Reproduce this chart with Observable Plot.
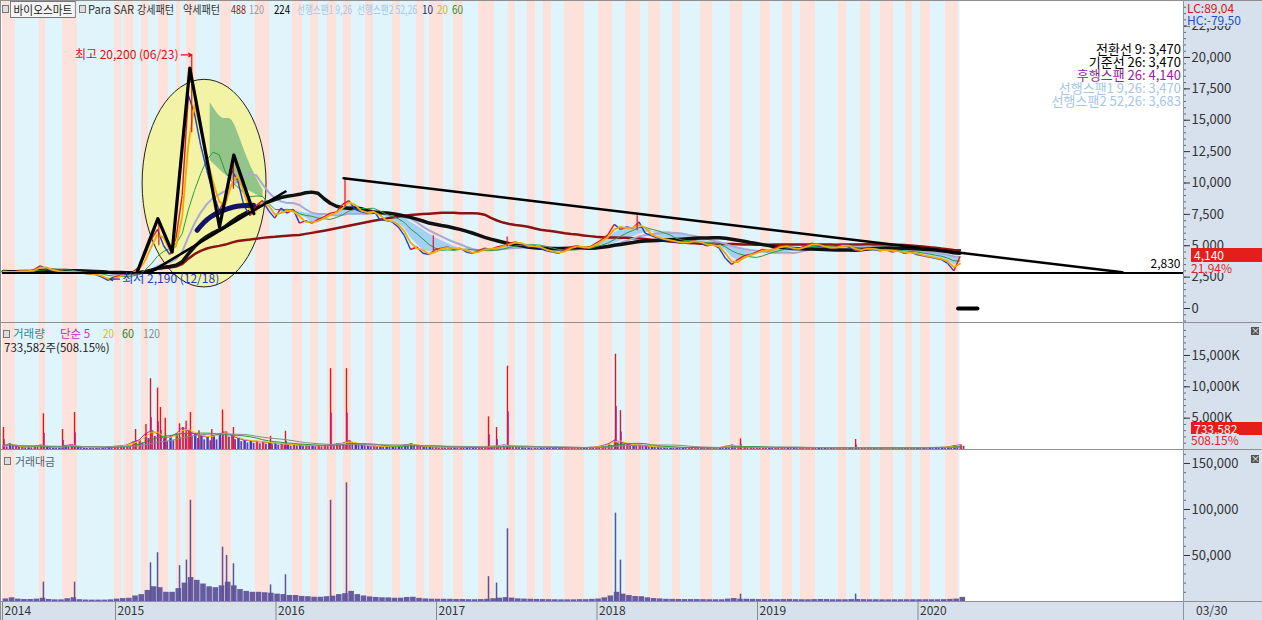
<!DOCTYPE html>
<html><head><meta charset="utf-8">
<script src="https://cdn.jsdelivr.net/npm/d3@7"></script>
<script src="https://cdn.jsdelivr.net/npm/@observablehq/plot@0.6"></script>
<style>
body{margin:0;background:#fff;}
#wrap{position:relative;width:1262px;height:620px;overflow:hidden;font-family:"Noto Sans CJK KR","Noto Sans",sans-serif;background:#fff;}
.abs{position:absolute;}
.lbl{position:absolute;white-space:nowrap;font-size:12px;line-height:14px;transform-origin:0 50%;}
.sq{position:absolute;width:5px;height:6px;border:1px solid #777;background:#ddd;}
</style></head><body><div id="wrap"></div>
<script>
// ---------------- DATA ----------------
const startYear = 2014.30;       // first sample (decimal year)
const stepYear = 1 / 26;         // two-week sampling
const closes = [2950,2900,2950,3000,2950,3100,3400,3150,3000,2950,
2900,2950,2850,2800,2750,2700,2500,2250,2500,2650,
2700,2900,3300,4300,5500,6300,5000,4300,5600,9000,
17000,15500,13000,11000,9200,7800,8800,11000,10200,8200,
7400,8200,8600,7800,7200,8000,7600,7900,6800,7000,
6800,7100,7300,7600,7700,8300,8600,7900,7700,7600,
7800,7100,7000,6900,6500,5800,4700,4900,4400,4300,
4700,4800,4900,4700,4800,4500,4400,4600,4800,4700,
4900,5000,5200,5300,5100,4900,5000,4800,4600,4500,
4400,4700,4900,5000,4800,4900,5200,5500,5900,6700,
6300,6500,6400,6900,6000,5800,5600,5500,5400,5300,
5200,5300,5400,5200,5000,5100,4800,4000,3500,3900,
4200,4300,4500,4700,4600,4800,5000,4900,4700,4800,
5000,5200,5000,4900,4800,4900,5100,4900,4600,4700,
4800,4700,4600,4700,4500,4600,4400,4500,4300,4200,
4100,4000,3900,3600,3000,4140];
const highs = [[2015.475,14000,20200],[2015.735,9500,12300],[2016.43,8000,10400],[2018.25,6200,7400],[2015.27,5000,6900],[2016.98,4600,5800],[2017.44,4900,5700]];
const volBase = [600,900,500,400,400,500,
700,400,350,350,600,800,400,
300,300,300,300,400,500,600,700,
1200,1500,2500,3000,2500,1800,2000,2500,3500,3000,2500,2200,2000,2200,2500,2800,2200,1800,1500,1400,
1300,1200,1100,1000,900,800,800,700,700,600,600,650,700,900,1000,1400,900,700,600,550,
500,500,450,500,700,900,600,500,450,400,400,380,350,350,330,320,350,400,500,600,
700,600,450,400,380,350,330,320,300,300,280,280,300,300,350,400,600,900,1500,1200,
900,700,700,550,450,400,350,330,320,300,300,300,290,280,280,300,500,700,500,450,
400,350,330,320,300,300,320,300,280,280,300,320,300,280,270,270,300,320,300,280,
270,260,260,270,280,290,300,300,310,320,330,350,400,600,734];
const volSpikes = [[2014.302,3500],[2014.551,5700],[2014.670,3200],[2014.745,5900],[2015.125,3200],[2015.19,4000],[2015.218,11300],[2015.262,9800],[2015.280,6700],[2015.31,5000],[2015.399,4100],[2015.44,4500],[2015.467,5900],[2015.52,3000],[2015.60,3200],[2015.667,6300],[2015.735,3500],[2015.966,2100],[2016.059,2900],[2016.340,12900],[2016.439,12900],[2017.324,5200],[2017.374,3500],[2017.442,13300],[2018.115,15200],[2018.146,6200],[2018.894,1700],[2019.611,1600]];
const valBase = [2800,4000,2600,2200,2200,2600,3500,2200,1800,1800,3000,4000,2000,1600,1500,1500,1500,1800,2600,3200,3500,
6000,7500,12000,16000,15000,10000,10000,14000,20000,26000,23000,19000,16000,15000,17000,21000,17000,13000,11000,10000,
10000,9500,9000,8000,7500,6500,6500,5500,5200,4600,4600,5200,5800,7500,8500,11000,7500,6000,5000,4400,
4000,3900,3500,3600,4400,4600,3400,2800,2500,2400,2400,2400,2200,2200,2000,1900,2100,2400,3000,3600,
4200,3700,2900,2600,2400,2200,2100,2000,1900,1800,1800,1800,2000,2000,2300,2700,4000,6000,10000,8000,
6500,5400,5200,4000,3200,2800,2400,2300,2200,2100,2100,2100,2000,1900,1900,1900,2600,3200,2400,2400,
2300,2100,2100,2100,2000,2100,2200,2000,1900,1900,2100,2200,2100,1900,1900,1900,2100,2100,2000,1900,
1900,1800,1800,1900,1900,1900,1900,1900,1900,1900,1900,2000,2300,2600,4500];
const valSpikes = [[2014.551,21000],[2014.745,21000],[2015.218,42000],[2015.262,53000],[2015.399,39000],[2015.442,45000],[2015.467,110000],[2015.667,59000],[2015.692,50000],[2015.735,41000],[2015.966,18000],[2016.059,29000],[2016.340,110000],[2016.439,129000],[2017.324,27000],[2017.374,20000],[2017.442,79000],[2018.115,96000],[2018.146,45000],[2018.894,8000],[2019.611,8000]];
const pinkBands = [[2014.296,2014.377],[2014.526,2014.564],[2014.670,2014.763],[2014.994,2015.037],[2015.056,2015.112],[2015.162,2015.206],[2015.268,2015.330],[2015.380,2015.405],[2015.442,2015.505],[2015.654,2015.723],[2015.872,2015.960],[2016.103,2016.165],[2016.215,2016.265],[2016.321,2016.377],[2016.421,2016.470],[2016.558,2016.607],[2016.726,2016.776],[2016.875,2016.925],[2016.956,2017.044],[2017.106,2017.168],[2017.262,2017.361],[2017.449,2017.492],[2017.567,2017.617],[2017.667,2017.717],[2017.798,2017.922],[2018.009,2018.097],[2018.178,2018.271],[2018.321,2018.396],[2018.470,2018.520],[2018.645,2018.720],[2018.832,2018.907],[2019.019,2019.081],[2019.156,2019.218],[2019.268,2019.361],[2019.505,2019.555],[2019.642,2019.704],[2019.766,2019.847],[2019.922,2019.966],[2020.016,2020.078],[2020.171,2020.252]];
const greenCloud = [[2015.59,16400,11800],[2015.67,14800,10800],[2015.72,15500,10300],[2015.78,13400,9800],[2015.84,11300,9300],[2015.92,9400,8800]];
const navyCurve = [[2015.509,6230],[2015.592,7290],[2015.735,8090],[2015.86,8230]];
const zigzag = [[2015.135,2900],[2015.264,7160],[2015.353,4500],[2015.463,19150],[2015.648,6490],[2015.737,12220],[2015.862,7560]];
const risingLine = [[2015.218,2900],[2016.059,9320]];
const fallingLine = [[2016.421,10380],[2021.274,2880]];
const supportLevel = 2830;
const zeroDash = [[2020.25,2020.37,0]];
const ellipse = {t: 2015.555, v: 9950, dt: 0.386, dv: 8270};
const peakNote = {t: 2015.475, v: 20200, text: "최고 20,200 (06/23)"};
const lowNote = {t: 2014.965, v: 2190, text: "최저 2,190 (12/18)"};
const priceTicks = [0,2500,5000,7500,10000,12500,15000,17500,20000,22500];
const volTicks = [5000,10000,15000];
const valTicks = [50000,100000,150000];
const yearTicks = [2014.296,2015,2016,2017,2018,2019,2020];
const yearLabels = ["2014","2015","2016","2017","2018","2019","2020"];

// ---------------- SETUP ----------------
const FONT = '"Noto Sans CJK KR","Noto Sans",sans-serif';
const W = 1262, ML = 2, MR = 79;
const xDomain = [2014.296, 2021.654];
const minorLen = 3 / 160.5; // 3px expressed in years, for minor tick marks right of the frame
const wrap = document.getElementById("wrap");
const style = {background: "transparent", fontFamily: FONT, fontSize: "12px", overflow: "visible"};

const price = closes.map((c, i) => ({t: startYear + i * stepYear, close: c}));
const segs = price.slice(1).map((d, i) => ({t1: price[i].t, v1: price[i].close, t2: d.t, v2: d.close, col: d.close >= price[i].close ? "#e8141e" : "#1c3fd0"}));
const lastT = price[price.length - 1].t;
const range = [{a: price[0].t, b: lastT}];
const bands = pinkBands.map(([a, b]) => ({a, b}));
const vol = volBase.map((v, i) => ({t: startYear + i * stepYear, v, col: (i === 0 || closes[i] >= closes[i - 1]) ? "#d8383a" : "#4040b8"}));
const val = valBase.map((v, i) => ({t: startYear + i * stepYear, v}));

function stripes() {
  return [
    Plot.rect(range, {x1: "a", x2: "b", fill: "#e0f5fb"}),
    Plot.rect(bands, {x1: "a", x2: "b", fill: "#fde1db"})
  ];
}
function minorTicks(values) {
  return Plot.ruleY(values, {y: d => d, x1: xDomain[1], x2: xDomain[1] + minorLen, stroke: "#666"});
}
function bg(x, y, w, h, color) {
  const d = document.createElement("div");
  d.className = "abs";
  Object.assign(d.style, {left: x + "px", top: y + "px", width: w + "px", height: h + "px", background: color});
  wrap.appendChild(d);
}
function place(svg, top) {
  svg.style.position = "absolute";
  svg.style.left = "0px";
  svg.style.top = top + "px";
  wrap.appendChild(svg);
}
function label(text, x, y, color, extra = {}, fitW) {
  const d = document.createElement("div");
  d.className = "lbl";
  d.textContent = text;
  Object.assign(d.style, {left: x + "px", top: y + "px", color}, extra);
  wrap.appendChild(d);
  if (fitW) {
    const w = d.getBoundingClientRect().width;
    if (w > fitW) d.style.transform = `scaleX(${fitW / w})`;
  }
  return d;
}

// backgrounds
bg(1183, 0, 79, 620, "#d7e1ee");
bg(0, 601, 1262, 19, "#d7e1ee");

const ellipseMark = (index, scales) => {
  const {x, y} = scales;
  const cx = x(ellipse.t), cy = y(ellipse.v);
  const rx = Math.abs(x(ellipse.t + ellipse.dt) - cx);
  const ry = Math.abs(y(ellipse.v + ellipse.dv) - cy);
  return d3.create("svg:ellipse").attr("cx", cx).attr("cy", cy).attr("rx", rx).attr("ry", ry)
    .attr("fill", "#f3f3a6").attr("stroke", "#222").attr("stroke-width", 1).node();
};

const ma = (k, stroke, sw) => Plot.lineY(price, Plot.windowY({k, anchor: "end"}, {x: "t", y: "close", stroke, strokeWidth: sw}));

// ---------------- PRICE PANEL ----------------
const pricePlot = Plot.plot({
  width: W, height: 322, marginLeft: ML, marginRight: MR, marginTop: 0, marginBottom: 0,
  x: {domain: xDomain, axis: null},
  y: {domain: [-1115, 24540], label: null},
  style,
  marks: [
    ...stripes(),
    ellipseMark,
    Plot.areaY(price.filter(d => d.t >= 2015.9), Plot.map({y1: Plot.window({k: 3, anchor: "end"}), y2: Plot.window({k: 10, anchor: "end"})}, {x: "t", y1: "close", y2: "close", fill: "#a3d0f5"})),
    Plot.areaY(greenCloud, {x: d => d[0], y1: d => d[1], y2: d => d[2], fill: "#93c58a", curve: "basis"}),
    ma(49, "#8a1414", 2.5),
    ma(12, "#a9a9d6", 2),
    ma(22, "#111", 3.5),
    ma(6, "#2e9a3a", 1),
    Plot.link(segs, {x1: "t1", y1: "v1", x2: "t2", y2: "v2", stroke: d => d.col, strokeWidth: 1.4}),
    ma(2, "#f0ac00", 1.8),
    Plot.ruleX(highs, {x: d => d[0], y1: d => d[1], y2: d => d[2], stroke: "#e8141e", strokeWidth: 1.2}),
    Plot.line(navyCurve, {x: d => d[0], y: d => d[1], stroke: "#12126a", strokeWidth: 5, curve: "natural"}),
    Plot.line(zigzag, {x: d => d[0], y: d => d[1], stroke: "#000", strokeWidth: 3.2}),
    Plot.line(risingLine, {x: d => d[0], y: d => d[1], stroke: "#000", strokeWidth: 2.5}),
    Plot.line(fallingLine, {x: d => d[0], y: d => d[1], stroke: "#000", strokeWidth: 2.5}),
    Plot.ruleY([supportLevel], {stroke: "#000", strokeWidth: 2}),
    Plot.text([supportLevel], {y: d => d, x: xDomain[1], text: d => d3.format(",")(d), textAnchor: "end", dx: -3, dy: -9, fill: "#000", fontSize: 12}),
    Plot.link(zeroDash, {x1: d => d[0], x2: d => d[1], y1: d => d[2], y2: d => d[2], stroke: "#000", strokeWidth: 4, strokeLinecap: "round"}),
    Plot.arrow([peakNote], {x1: d => d.t - 0.065, x2: d => d.t, y1: "v", y2: "v", stroke: "#e01010", strokeWidth: 1.2, headLength: 6}),
    Plot.text([peakNote], {x: d => d.t - 0.07, y: "v", text: "text", textAnchor: "end", fill: "#d81010", fontSize: 12, dx: -2}),
    Plot.arrow([lowNote], {x1: d => d.t + 0.06, x2: d => d.t, y1: d => d.v + 150, y2: d => d.v + 150, stroke: "#1a3cc8", strokeWidth: 1.2, headLength: 6}),
    Plot.text([lowNote], {x: d => d.t + 0.065, y: d => d.v + 150, text: "text", textAnchor: "start", fill: "#1a3cc8", fontSize: 12, dx: 2}),
    minorTicks(d3.range(-1000, 24500, 500)),
    Plot.axisY({anchor: "right", ticks: priceTicks, tickSize: 6, tickPadding: 2, tickFormat: d3.format(","), color: "#333", fontSize: 13, label: null})
  ]
});
place(pricePlot, 0);

// ---------------- VOLUME PANEL ----------------
const vma = (k, stroke) => Plot.lineY(vol, Plot.windowY({k, anchor: "end"}, {x: "t", y: "v", stroke, strokeWidth: 1}));
const volPlot = Plot.plot({
  width: W, height: 126, marginLeft: ML, marginRight: MR, marginTop: 0, marginBottom: 0,
  x: {domain: xDomain, axis: null},
  y: {domain: [0, 20100], label: null},
  color: {type: "identity"},
  style,
  marks: [
    ...stripes(),
    Plot.rect(vol, {x1: "t", x2: d => d.t + stepYear * 0.4, y1: 0, y2: "v", fill: "col"}),
    Plot.rect(vol, {x1: d => d.t + stepYear * 0.5, x2: d => d.t + stepYear * 0.8, y1: 0, y2: d => d.v * 0.7, fill: "#7a3aa0"}),
    Plot.ruleX(volSpikes, {x: d => d[0], y1: 0, y2: d => d[1], stroke: "#e01818", strokeWidth: 1.4}),
    Plot.ruleX(volSpikes, {x: d => d[0] + 0.006, y1: 0, y2: d => d[1] * 0.45, stroke: "#c030c0", strokeWidth: 1}),
    vma(1, "#c030c0"),
    vma(2, "#e6cc00"),
    vma(6, "#2a9a2a"),
    vma(12, "#8a8a8a"),
    minorTicks(d3.range(0, 20000, 1000)),
    Plot.axisY({anchor: "right", ticks: volTicks, tickSize: 6, tickPadding: 2, tickFormat: d => d3.format(",")(d) + "K", color: "#333", fontSize: 13, label: null})
  ]
});
place(volPlot, 323);

// ---------------- TRADING VALUE PANEL ----------------
const valPlot = Plot.plot({
  width: W, height: 151, marginLeft: ML, marginRight: MR, marginTop: 0, marginBottom: 0,
  x: {domain: xDomain, axis: null},
  y: {domain: [0, 164130], label: null},
  style,
  marks: [
    ...stripes(),
    Plot.rect(val, {x1: "t", x2: d => d.t + stepYear * 0.9, y1: 0, y2: "v", fill: "#675c9e"}),
    Plot.ruleX(valSpikes, {x: d => d[0], y1: 0, y2: d => d[1], stroke: "#5d5296", strokeWidth: 1.5}),
    minorTicks(d3.range(0, 165000, 10000)),
    Plot.axisY({anchor: "right", ticks: valTicks, tickSize: 6, tickPadding: 2, tickFormat: d3.format(","), color: "#333", fontSize: 13, label: null})
  ]
});
place(valPlot, 450);

// ---------------- TIME AXIS ----------------
const timePlot = Plot.plot({
  width: W, height: 19, marginLeft: ML, marginRight: MR, marginTop: 0, marginBottom: 0,
  x: {domain: xDomain, axis: null},
  style,
  marks: [
    Plot.ruleX(yearTicks, {stroke: "#8a8a8a"}),
    Plot.text(yearTicks, {x: d => d, text: (d, i) => yearLabels[i], textAnchor: "start", dx: 2, frameAnchor: "middle", fill: "#333", fontSize: 12})
  ]
});
place(timePlot, 601);

// separators / borders
bg(0, 322, 1262, 1, "#8f8f8f");
bg(0, 449, 1262, 1, "#8f8f8f");
bg(0, 601, 1262, 1, "#8f8f8f");
bg(1183, 0, 1, 620, "#8a96a8");
bg(0, 0, 1, 620, "#8f8f8f");
bg(0, 0, 1262, 1, "#8f8f8f");

// ---------------- TEXT OVERLAYS ----------------
const H = {fontSize: "11.5px"};
const sq1 = document.createElement("div"); sq1.className = "sq"; Object.assign(sq1.style, {left: "2px", top: "5px"}); wrap.appendChild(sq1);
label("바이오스마트", 10, 1, "#222", {border: "1px solid #777", background: "#f4f4f4", padding: "0 3px", height: "15px", lineHeight: "15px", fontSize: "12px"}, 66);
const sq2 = document.createElement("div"); sq2.className = "sq"; Object.assign(sq2.style, {left: "79px", top: "5px"}); wrap.appendChild(sq2);
label("Para SAR", 88, 2, "#333", H, 46);
label("강세패턴", 137, 2, "#333", H, 37);
label("약세패턴", 183, 2, "#333", H, 37);
label("488", 231, 2, "#a01010", H, 15);
label("120", 249, 2, "#9a9a9a", H, 15);
label("224", 274, 2, "#000", H, 16);
label("선행스팬1 9,26", 297, 2, "#a6c6e8", H, 55);
label("선행스팬2 52,26", 357, 2, "#a6c6e8", H, 60);
label("10", 422, 2, "#1a1a80", H, 11);
label("20", 437, 2, "#d8b400", H, 11);
label("60", 452, 2, "#3a8a3a", H, 11);

// right legend
const legend = [["전환선 9: 3,470", "#000"], ["기준선 26: 3,470", "#000"], ["후행스팬 26: 4,140", "#9a20a8"], ["선행스팬1 9,26: 3,470", "#a6c6e8"], ["선행스팬2 52,26: 3,683", "#a6c6e8"]];
legend.forEach(([t, c], i) => label(t, 0, 42 + i * 13, c, {left: "auto", right: "81px", fontSize: "13px", lineHeight: "13px"}));

// price axis overlays
label("LC:89,04", 1187, 2, "#d01818", {background: "#d7e1ee", fontSize: "12px", lineHeight: "12px"});
label("HC:-79,50", 1187, 14, "#1850c0", {background: "#d7e1ee", fontSize: "12px", lineHeight: "12px"});
label("4,140", 1191, 248, "#fff", {background: "#e41e1a", width: "68px", paddingLeft: "3px", height: "14px", lineHeight: "14px"});
label("21,94%", 1191, 262, "#e41e1a", {lineHeight: "11px", background: "#d7e1ee"});

// volume overlays
const sq3 = document.createElement("div"); sq3.className = "sq"; Object.assign(sq3.style, {left: "3px", top: "330px"}); wrap.appendChild(sq3);
label("거래량", 13, 326, "#2a8a9a", H, 36);
label("단순 5", 60, 326, "#c030c0", H, 34);
label("20", 103, 326, "#d8c000", H, 11);
label("60", 122, 326, "#2a8a2a", H, 12);
label("120", 143, 326, "#8a8a8a", H, 17);
label("733,582주(508.15%)", 4, 340, "#222", H, 122);
label("733,582", 1191, 422, "#fff", {background: "#e41e1a", width: "68px", paddingLeft: "3px", height: "13px", lineHeight: "13px"});
label("508.15%", 1191, 434, "#e41e1a", {lineHeight: "12px", background: "#d7e1ee"});

// value overlays
const sq4 = document.createElement("div"); sq4.className = "sq"; Object.assign(sq4.style, {left: "4px", top: "457px"}); wrap.appendChild(sq4);
label("거래대금", 15, 454, "#556070", H, 40);

// close icons
[[1251, 327], [1251, 455]].forEach(([x, y]) => {
  label("×", x, y, "#fff", {background: "#555", width: "8px", height: "8px", lineHeight: "8px", fontSize: "9px", textAlign: "center"});
});

label("03/30", 1196, 603, "#333");
</script></body></html>
